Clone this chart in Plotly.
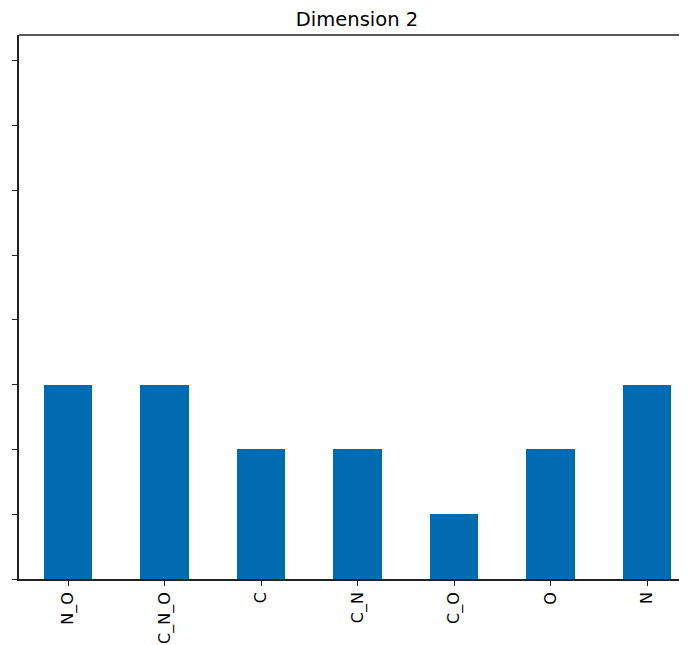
import plotly.graph_objects as go

categories = ["N_O", "C_N_O", "C", "C_N", "C_O", "O", "N"]
values = [3, 3, 2, 2, 1, 2, 3]
y_ticks = [0, 1, 2, 3, 4, 5, 6, 7, 8]

# page body has an 8px margin; work in figure coordinates = screen - 8
OFF = 8
W, H = 687 - OFF, 645 - OFF
left, right_px, top, bottom = 19 - OFF, 687 - OFF, 35 - OFF, 579 - OFF
unit = 96.5  # px per category
x0 = -(68 - 19) / unit

fig = go.Figure(go.Bar(
    x=list(range(len(categories))), y=values,
    width=0.5, marker=dict(color="#006bb0", line=dict(width=0)),
))

fig.update_layout(
    width=W, height=H,
    margin=dict(l=left, r=W - right_px, t=top, b=H - bottom),
    plot_bgcolor="white", paper_bgcolor="white",
    font=dict(family="DejaVu Sans", color="black"),
    title=dict(text="Dimension 2", x=(357 - OFF) / W, xanchor="center",
               y=1 - (19 - OFF) / H, yanchor="middle", font=dict(size=19.5)),
    showlegend=False,
    bargap=0,
)
fig.update_xaxes(
    range=[x0, x0 + (right_px - left) / unit],
    tickvals=list(range(len(categories))), ticktext=categories,
    tickangle=-90, tickfont=dict(size=16),
    ticks="outside", ticklen=5, tickwidth=1.2, tickcolor="#222",
    showline=True, linecolor="#222", linewidth=1.5,
    showgrid=False, zeroline=False,
)
fig.update_yaxes(
    range=[0, 8.4], tickvals=y_ticks, showticklabels=False,
    ticks="outside", ticklen=5, tickwidth=1.2, tickcolor="#222",
    showline=True, linecolor="#222", linewidth=1.5,
    showgrid=False, zeroline=False,
)
# top spine
fig.add_shape(type="line", xref="paper", yref="paper", x0=0, x1=1, y0=1, y1=1,
              line=dict(color="#222", width=1.5))

fig.write_html("out.html")
